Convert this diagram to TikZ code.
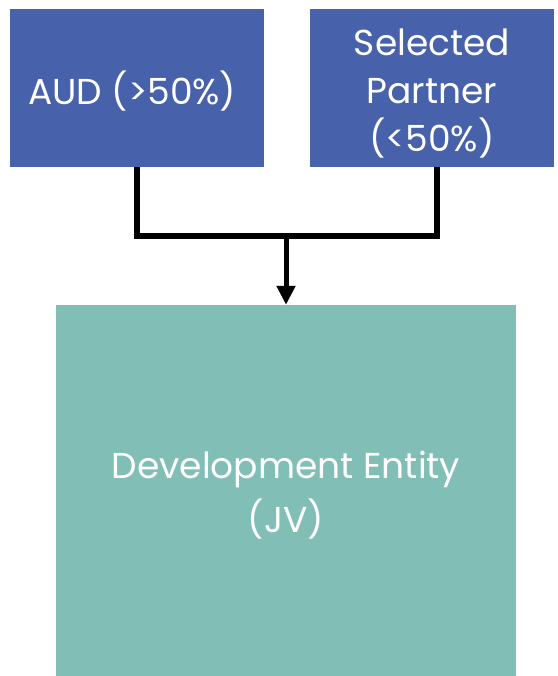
\documentclass[tikz,border=0pt]{standalone}
\usepackage{fontspec}
\setsansfont{Poppins}
\usetikzlibrary{arrows.meta,positioning}
\definecolor{audblue}{RGB}{71,97,171}
\definecolor{jvgreen}{RGB}{129,190,182}

\begin{document}
\begin{tikzpicture}[x=1pt, y=1pt, every node/.style={
    rectangle,
    inner sep=0pt,
    text=white,
    align=center,
    font=\sffamily\fontsize{36}{48}\selectfont
}]
    \useasboundingbox (0,0) rectangle (557,-676);

    \node (aud) [fill=audblue, minimum width=254pt, minimum height=158pt] at (137,-88)
    {
        \rule{0pt}{40pt}AUD (>50\%)
    };
    \node (selected_partner) [fill=audblue, minimum width=244pt, minimum height=158pt] at (432,-88)
    {
        \rule{0pt}{38pt}Selected\\Partner\\(<50\%)
    };



    \node (development_entity) [fill=jvgreen, minimum width=460pt, minimum height=371pt, font=\sffamily\fontsize{36}{54}\selectfont] at (286,-490.5)
    {
        \rule{0pt}{36pt}Development Entity\\(JV)
    };



    \coordinate (junction) at (286,-236);



    \draw[line width=6pt] (aud.south) |- ([xshift=5pt]selected_partner.south |- junction) -- ([xshift=5pt]selected_partner.south);
    \draw[line width=5pt, -{Triangle[width=18pt, length=19pt]}] (junction) to (development_entity.north);


\end{tikzpicture}
\end{document}
